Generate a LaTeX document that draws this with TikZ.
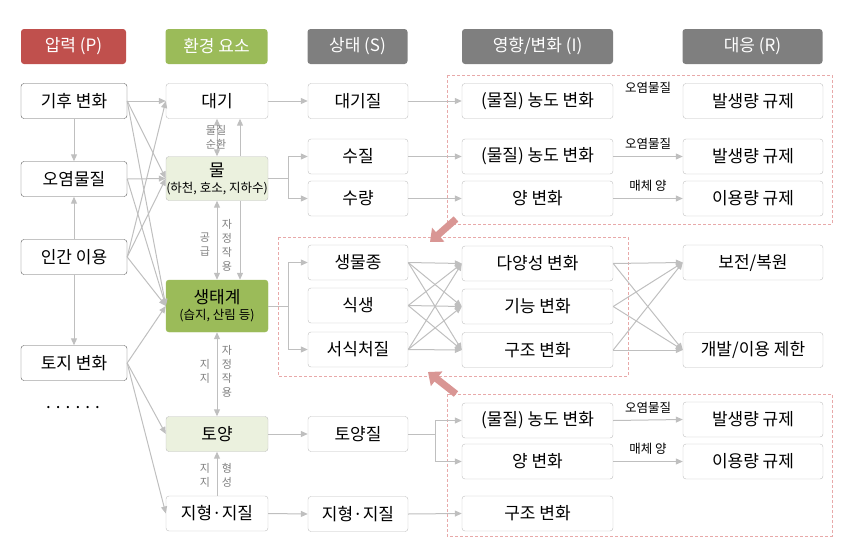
\documentclass[tikz,border=0pt]{standalone}
\usepackage{fontspec}
\setmainfont{Noto Sans CJK KR}
\usetikzlibrary{arrows.meta}

\definecolor{pred}{HTML}{C0504D}
\definecolor{egreen}{HTML}{9BBB59}
\definecolor{lgreen}{HTML}{EBF1DE}
\definecolor{hgray}{HTML}{7F7F7F}
\definecolor{lgray}{HTML}{BFBFBF}
\definecolor{dgray}{HTML}{595959}
\definecolor{dashred}{HTML}{E8A9A9}
\definecolor{bigred}{HTML}{D99694}

\tikzset{
  hdbox/.style={rounded corners=3pt, text=white, font=\fontsize{17}{20}\selectfont, minimum height=35pt, inner sep=0pt},
  box/.style={draw=lgray, rounded corners=3pt, fill=white, font=\fontsize{17}{20}\selectfont, minimum height=35pt, inner sep=0pt, align=center},
  pbox/.style={box, draw=dgray, minimum width=106pt},
  ebox/.style={box, minimum width=102pt},
  sbox/.style={box, minimum width=100pt},
  ibox/.style={box, minimum width=151pt},
  rbox/.style={box, minimum width=140pt},
  link/.style={draw=lgray, line width=1pt, ->},
  note/.style={font=\fontsize{12.5}{14}\selectfont},
  vnote/.style={font=\fontsize{11}{14}\selectfont, text=hgray, align=center, inner sep=0pt},
  grpbox/.style={draw=dashred, dash pattern=on 3pt off 2pt, line width=0.6pt},
  bigarrow/.style={draw=bigred, line width=7pt, -{Triangle[length=11pt,width=18pt]}},
}

\begin{document}
\begin{tikzpicture}[x=1pt, y=-1pt, >={Triangle[length=7pt,width=6pt]}]
\useasboundingbox (0,0) rectangle (857,557);

% dashed groups
\draw[grpbox] (447,75) rectangle (832,224);
\draw[grpbox] (278,237) rectangle (628,376);
\draw[grpbox] (447,394) rectangle (832,536);

% column headers
\node[hdbox, fill=pred, minimum width=105pt] (hP) at (73.5,46.5) {압력 (P)};
\node[hdbox, fill=egreen, minimum width=102pt] (hE) at (216.5,46.5) {환경 요소};
\node[hdbox, fill=hgray, minimum width=100pt] (hS) at (357.5,46.5) {상태 (S)};
\node[hdbox, fill=hgray, minimum width=151pt] (hI) at (537.5,46.5) {영향/변화 (I)};
\node[hdbox, fill=hgray, minimum width=140pt] (hR) at (752.5,46.5) {대응 (R)};

% pressure
\node[pbox] (p1) at (74,101) {기후 변화};
\node[pbox] (p2) at (74,179) {오염물질};
\node[pbox] (p3) at (74,257) {인간 이용};
\node[pbox] (p4) at (74,363) {토지 변화};
\node[font=\fontsize{17}{20}\selectfont] (pdots) at (73,408) {. . . . . .};

% environment
\node[ebox] (e1) at (217,101) {대기};
\node[ebox, fill=lgreen, minimum height=44pt] (e2) at (217,178.5) {물\\[-4pt]{\fontsize{12.5}{14}\selectfont(하천, 호소, 지하수)}};
\node[ebox, fill=egreen, draw=egreen, minimum height=52pt] (e3) at (217,306) {생태계\\[-4pt]{\fontsize{12.5}{14}\selectfont(습지, 산림 등)}};
\node[ebox, fill=lgreen] (e4) at (217,434) {토양};
\node[ebox] (e5) at (217,513.5) {지형·지질};

% state
\node[sbox] (s1) at (358,101) {대기질};
\node[sbox] (s2) at (358,156.5) {수질};
\node[sbox] (s3) at (358,198.5) {수량};
\node[sbox] (s4) at (358,262.5) {생물종};
\node[sbox] (s5) at (358,305.5) {식생};
\node[sbox] (s6) at (358,349.5) {서식처질};
\node[sbox] (s7) at (358,434) {토양질};
\node[sbox] (s8) at (358,514) {지형·지질};

% impact
\node[ibox] (i1) at (537.5,101) {(물질) 농도 변화};
\node[ibox] (i2) at (537.5,156.5) {(물질) 농도 변화};
\node[ibox] (i3) at (537.5,198.5) {양 변화};
\node[ibox] (i4) at (537.5,263.5) {다양성 변화};
\node[ibox] (i5) at (537.5,306.5) {기능 변화};
\node[ibox] (i6) at (537.5,350) {구조 변화};
\node[ibox] (i7) at (537.5,420.5) {(물질) 농도 변화};
\node[ibox] (i8) at (537.5,461.5) {양 변화};
\node[ibox] (i9) at (537.5,513.5) {구조 변화};

% response
\node[rbox] (r1) at (753,101) {발생량 규제};
\node[rbox] (r2) at (753,156.5) {발생량 규제};
\node[rbox] (r3) at (753,198.5) {이용량 규제};
\node[rbox] (r4) at (753,262.5) {보전/복원};
\node[rbox] (r5) at (753,350) {개발/이용 제한};
\node[rbox] (r6) at (753,419.5) {발생량 규제};
\node[rbox] (r7) at (753,461.5) {이용량 규제};

% pressure links
\draw[link] (p1.south) -- (p2.north);
\draw[link] (p3.north) -- (p2.south);
\draw[link] (p3.south) -- (p4.north);
\foreach \a/\b in {p1/e1,p1/e2,p1/e3,p2/e2,p2/e3,p3/e1,p3/e2,p3/e3,p4/e3,p4/e4,p4/e5}
  \draw[link] (\a.east) -- (\b.west);

% links inside environment
\draw[link,<->] (e2.north) -- (e1.south);
\draw[link,<->] (e3.north) -- (e2.south);
\draw[link,<->] (e4.north) -- (e3.south);
\draw[link] (e5.north) -- (e4.south);
\draw[link] ([xshift=23pt]e2.north) -- ([xshift=23pt]e1.south);
\draw[link] ([xshift=23pt]e2.south) -- ([xshift=23pt]e3.north);
\node[vnote] (l1) at (216,137) {물질\\순환};
\node[vnote] (l2) at (205,245) {공\\급};
\node[vnote] (l3) at (227,245) {자\\정\\작\\용};
\node[vnote] (l4) at (205,371) {지\\지};
\node[vnote] (l5) at (227,371) {자\\정\\작\\용};
\node[vnote] (l6) at (205,475) {지\\지};
\node[vnote] (l7) at (227,475) {형\\성};

% environment -> state
\draw[link] (e1.east) -- (s1.west);
\draw[link] (e2.east) -- (288,178.5) coordinate (wj) |- (s2.west);
\draw[link] (wj) |- (s3.west);
\draw[link] (e3.east) -- (288,306) coordinate (bj) |- (s4.west);
\draw[link] (bj) |- (s6.west);
\draw[link] (e4.east) -- (s7.west);
\draw[link] (e5.east) -- (s8.west);

% state -> impact
\draw[link] (s1.east) -- (i1.west);
\draw[link] (s2.east) -- (i2.west);
\draw[link] (s3.east) -- (i3.west);
\foreach \a in {4,5,6}
  \foreach \b in {4,5,6}
    \draw[link] (s\a.east) -- (i\b.west);
\draw[link] (s7.east) -- (435,434) coordinate (sj) |- (i7.west);
\draw[link] (sj) |- (i8.west);
\draw[link] (s8.east) -- (i9.west);

% impact -> response
\node[note] (n1) at (648,88) {오염물질};
\draw[link] (i2.east) -- node[note, above=3pt] (n2) {오염물질} (r2.west);
\draw[link] (i3.east) -- node[note, above=3pt] (n3) {매체 양} (r3.west);
\foreach \a in {4,5,6}
  \foreach \b in {4,5}
    \draw[link] (i\a.east) -- (r\b.west);
\draw[link] (i7.east) -- node[note, above=3pt] (n4) {오염물질} (r6.west);
\draw[link] (i8.east) -- node[note, above=3pt] (n5) {매체 양} (r7.west);

% shifts between groups
\coordinate (ta) at (456,219);
\coordinate (tb) at (430,242);
\coordinate (ba) at (456,394);
\coordinate (bb) at (428,372);
\draw[bigarrow] (ta) -- (tb);
\draw[bigarrow] (ba) -- (bb);

\end{tikzpicture}
\end{document}
